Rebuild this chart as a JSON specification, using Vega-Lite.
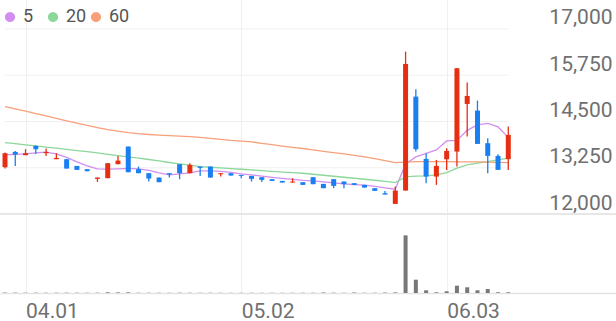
{
  "$schema": "https://vega.github.io/schema/vega-lite/v6.json",
  "width": 616,
  "height": 293,
  "autosize": "none",
  "padding": {"left": 0, "top": 0, "right": 0, "bottom": 28},
  "background": "white",
  "config": {"view": {"stroke": null}, "font": "Roboto"},
  "datasets": {
    "prices": [
      {"date": "03.28", "open": 13266, "high": 13661, "low": 13229, "close": 13644, "vol": 20000, "5": 13598, "20": 13931, "60": 14903},
      {"date": "03.29", "open": 13679, "high": 13706, "low": 13301, "close": 13607, "vol": 18000, "5": 13612, "20": 13901, "60": 14840},
      {"date": "04.01", "open": 13590, "high": 13752, "low": 13590, "close": 13644, "vol": 15000, "5": 13625, "20": 13871, "60": 14778},
      {"date": "04.02", "open": 13841, "high": 13855, "low": 13625, "close": 13752, "vol": 16000, "5": 13652, "20": 13841, "60": 14714},
      {"date": "04.03", "open": 13644, "high": 13769, "low": 13571, "close": 13679, "vol": 14000, "5": 13671, "20": 13809, "60": 14651},
      {"date": "04.04", "open": 13482, "high": 13644, "low": 13482, "close": 13517, "vol": 15000, "5": 13625, "20": 13779, "60": 14584},
      {"date": "04.05", "open": 13482, "high": 13490, "low": 13229, "close": 13229, "vol": 17000, "5": 13531, "20": 13747, "60": 14516},
      {"date": "04.08", "open": 13301, "high": 13301, "low": 13193, "close": 13193, "vol": 14000, "5": 13409, "20": 13715, "60": 14454},
      {"date": "04.09", "open": 13212, "high": 13212, "low": 13158, "close": 13158, "vol": 13000, "5": 13301, "20": 13685, "60": 14395},
      {"date": "04.11", "open": 12950, "high": 12986, "low": 12869, "close": 12986, "vol": 15000, "5": 13220, "20": 13652, "60": 14336},
      {"date": "04.12", "open": 12969, "high": 13374, "low": 12969, "close": 13374, "vol": 36000, "5": 13212, "20": 13612, "60": 14282},
      {"date": "04.15", "open": 13347, "high": 13571, "low": 13347, "close": 13445, "vol": 30000, "5": 13220, "20": 13577, "60": 14238},
      {"date": "04.16", "open": 13823, "high": 13823, "low": 13131, "close": 13131, "vol": 34000, "5": 13234, "20": 13544, "60": 14201},
      {"date": "04.17", "open": 13212, "high": 13283, "low": 13104, "close": 13104, "vol": 14000, "5": 13220, "20": 13509, "60": 14171},
      {"date": "04.18", "open": 13104, "high": 13104, "low": 12878, "close": 12959, "vol": 13000, "5": 13180, "20": 13474, "60": 14149},
      {"date": "04.19", "open": 12986, "high": 12986, "low": 12861, "close": 12861, "vol": 12000, "5": 13112, "20": 13436, "60": 14133},
      {"date": "04.22", "open": 13104, "high": 13104, "low": 12986, "close": 13067, "vol": 11000, "5": 13058, "20": 13393, "60": 14120},
      {"date": "04.23", "open": 13347, "high": 13347, "low": 12942, "close": 13104, "vol": 15000, "5": 13085, "20": 13355, "60": 14106},
      {"date": "04.24", "open": 13104, "high": 13374, "low": 13104, "close": 13328, "vol": 14000, "5": 13112, "20": 13320, "60": 14090},
      {"date": "04.25", "open": 13283, "high": 13283, "low": 13031, "close": 13247, "vol": 12000, "5": 13166, "20": 13283, "60": 14071},
      {"date": "04.26", "open": 13283, "high": 13283, "low": 12986, "close": 12986, "vol": 13000, "5": 13166, "20": 13264, "60": 14044},
      {"date": "04.29", "open": 13077, "high": 13104, "low": 13013, "close": 13104, "vol": 11000, "5": 13153, "20": 13245, "60": 14017},
      {"date": "04.30", "open": 13104, "high": 13104, "low": 13040, "close": 13040, "vol": 10000, "5": 13126, "20": 13226, "60": 13990},
      {"date": "05.02", "open": 13058, "high": 13058, "low": 12969, "close": 13031, "vol": 10000, "5": 13085, "20": 13210, "60": 13971},
      {"date": "05.03", "open": 13031, "high": 13031, "low": 12878, "close": 12950, "vol": 11000, "5": 13058, "20": 13191, "60": 13949},
      {"date": "05.07", "open": 12996, "high": 12996, "low": 12869, "close": 12923, "vol": 10000, "5": 13023, "20": 13172, "60": 13912},
      {"date": "05.08", "open": 12942, "high": 12942, "low": 12896, "close": 12896, "vol": 10000, "5": 12991, "20": 13153, "60": 13874},
      {"date": "05.09", "open": 12896, "high": 12896, "low": 12851, "close": 12851, "vol": 10000, "5": 12964, "20": 13134, "60": 13836},
      {"date": "05.10", "open": 12851, "high": 12969, "low": 12851, "close": 12878, "vol": 11000, "5": 12937, "20": 13118, "60": 13801},
      {"date": "05.13", "open": 12861, "high": 12861, "low": 12788, "close": 12788, "vol": 12000, "5": 12910, "20": 13102, "60": 13771},
      {"date": "05.14", "open": 12996, "high": 12996, "low": 12807, "close": 12807, "vol": 12000, "5": 12896, "20": 13075, "60": 13731},
      {"date": "05.16", "open": 12815, "high": 12815, "low": 12699, "close": 12699, "vol": 25000, "5": 12869, "20": 13048, "60": 13696},
      {"date": "05.17", "open": 12942, "high": 12942, "low": 12699, "close": 12761, "vol": 16000, "5": 12842, "20": 13021, "60": 13661},
      {"date": "05.20", "open": 12878, "high": 12878, "low": 12699, "close": 12807, "vol": 12000, "5": 12815, "20": 12994, "60": 13625},
      {"date": "05.21", "open": 12834, "high": 12834, "low": 12788, "close": 12788, "vol": 24000, "5": 12797, "20": 12967, "60": 13588},
      {"date": "05.22", "open": 12788, "high": 12788, "low": 12716, "close": 12716, "vol": 12000, "5": 12780, "20": 12940, "60": 13544},
      {"date": "05.23", "open": 12699, "high": 12699, "low": 12626, "close": 12626, "vol": 12000, "5": 12748, "20": 12913, "60": 13496},
      {"date": "05.24", "open": 12564, "high": 12626, "low": 12527, "close": 12527, "vol": 22000, "5": 12707, "20": 12883, "60": 13445},
      {"date": "05.27", "open": 12275, "high": 12743, "low": 12275, "close": 12635, "vol": 30000, "5": 12672, "20": 12851, "60": 13388},
      {"date": "05.28", "open": 12635, "high": 16388, "low": 12635, "close": 16055, "vol": 2950000, "5": 13355, "20": 13004, "60": 13404},
      {"date": "05.29", "open": 15173, "high": 15372, "low": 13688, "close": 13752, "vol": 681000, "5": 13544, "20": 13023, "60": 13415},
      {"date": "05.30", "open": 13490, "high": 13644, "low": 12834, "close": 13013, "vol": 138000, "5": 13639, "20": 13031, "60": 13415},
      {"date": "05.31", "open": 13013, "high": 13463, "low": 12788, "close": 13301, "vol": 36000, "5": 13733, "20": 13058, "60": 13415},
      {"date": "06.03", "open": 13482, "high": 13779, "low": 13193, "close": 13706, "vol": 87000, "5": 13976, "20": 13121, "60": 13415},
      {"date": "06.04", "open": 13688, "high": 15939, "low": 13283, "close": 15939, "vol": 374000, "5": 13990, "20": 13239, "60": 13409},
      {"date": "06.05", "open": 14975, "high": 15551, "low": 14093, "close": 15191, "vol": 292000, "5": 14260, "20": 13328, "60": 13409},
      {"date": "06.07", "open": 14795, "high": 15065, "low": 13895, "close": 13895, "vol": 138000, "5": 14408, "20": 13374, "60": 13409},
      {"date": "06.10", "open": 13914, "high": 14049, "low": 13104, "close": 13571, "vol": 205000, "5": 14449, "20": 13418, "60": 13401},
      {"date": "06.11", "open": 13571, "high": 13617, "low": 13193, "close": 13193, "vol": 36000, "5": 14354, "20": 13463, "60": 13396},
      {"date": "06.12", "open": 13482, "high": 14363, "low": 13193, "close": 14138, "vol": 36000, "5": 14071, "20": 13509, "60": 13390}
    ],
    "levels": [{"level": 13250}, {"level": 14500}, {"level": 15750}, {"level": 17000}]
  },
  "layer": [
    {
      "data": {"name": "levels"},
      "mark": {"type": "rule", "color": "#f0f0f0", "strokeWidth": 1},
      "encoding": {
        "x": {"datum": "03.28", "type": "ordinal", "scale": {"type": "point", "padding": 0.487, "domain": ["03.28","03.29","04.01","04.02","04.03","04.04","04.05","04.08","04.09","04.11","04.12","04.15","04.16","04.17","04.18","04.19","04.22","04.23","04.24","04.25","04.26","04.29","04.30","05.02","05.03","05.07","05.08","05.09","05.10","05.13","05.14","05.16","05.17","05.20","05.21","05.22","05.23","05.24","05.27","05.28","05.29","05.30","05.31","06.03","06.04","06.05","06.07","06.10","06.11","06.12","06.13","06.14","06.17","06.18","06.19","06.20","06.21","06.24","06.25","06.26"]}},
        "x2": {"datum": "06.12"},
        "y": {"field": "level", "type": "quantitative", "scale": {"domain": [9867, 17783], "nice": false, "zero": false}, "axis": null}
      }
    },
    {
      "data": {"name": "levels"},
      "mark": {"type": "rule", "color": "#e6e6e6", "strokeWidth": 1.2},
      "encoding": {
        "y": {"datum": 12000, "type": "quantitative", "scale": {"domain": [9867, 17783], "nice": false, "zero": false}, "axis": null}
      }
    },
    {
      "data": {"name": "prices"},
      "transform": [{"fold": ["5", "20", "60"], "as": ["ma", "val"]}],
      "mark": {"type": "line", "strokeWidth": 1.3},
      "encoding": {
        "x": {"field": "date", "type": "ordinal"},
        "y": {"field": "val", "type": "quantitative", "scale": {"domain": [9867, 17783], "nice": false, "zero": false}, "axis": null},
        "color": {
          "field": "ma", "type": "nominal",
          "scale": {"domain": ["5", "20", "60"], "range": ["#d28ef0", "#8cd79a", "#f7a07a"]},
          "legend": {
            "orient": "none", "legendX": 1, "legendY": 8, "direction": "horizontal", "title": null,
            "symbolType": "circle", "symbolSize": 105, "symbolStrokeWidth": 0,
            "labelFontSize": 18, "labelColor": "#555555", "labelFont": "Roboto", "labelOffset": 4,
            "gridAlign": "all", "columnPadding": -9, "padding": 0, "offset": 0,
            "encode": {"symbols": {"update": {"fill": {"scale": "color", "field": "value"}, "fillOpacity": {"value": 1}, "opacity": {"value": 1}}}}
          }
        }
      }
    },
    {
      "data": {"name": "prices"},
      "mark": {"type": "rule", "strokeWidth": 1.3},
      "encoding": {
        "x": {
          "field": "date", "type": "ordinal",
          "axis": {
            "values": ["04.01", "05.02", "06.03"], "title": null, "grid": true, "gridColor": "#efefef", "gridWidth": 1,
            "ticks": false, "domain": true, "domainColor": "#e3e3e3", "domainWidth": 1.5,
            "labelAlign": "left", "labelBaseline": "alphabetic", "labelPadding": 24, "labelAngle": 0,
            "labelFontSize": 21, "labelColor": "#707070", "labelFont": "Roboto", "labelFlush": false, "labelOverlap": false
          }
        },
        "y": {
          "field": "low", "type": "quantitative",
          "scale": {"domain": [9867, 17783], "nice": false, "zero": false},
          "axis": {
            "orient": "right", "values": [12000, 13250, 14500, 15750, 17000], "format": ",.0f", "title": null,
            "grid": false, "ticks": false, "domain": false,
            "labelAlign": "right", "labelBaseline": "alphabetic", "labelOffset": -5, "labelPadding": -4,
            "labelFontSize": 21, "labelColor": "#707070", "labelFont": "Roboto", "labelFlush": false, "labelOverlap": false
          }
        },
        "y2": {"field": "high"},
        "color": {"condition": {"test": "datum.close >= datum.open", "value": "#e62e12"}, "value": "#1a7ff0"}
      }
    },
    {
      "data": {"name": "prices"},
      "mark": {"type": "bar", "size": 5},
      "encoding": {
        "x": {"field": "date", "type": "ordinal"},
        "y": {"field": "open", "type": "quantitative", "scale": {"domain": [9867, 17783], "nice": false, "zero": false}, "axis": null},
        "y2": {"field": "close"},
        "color": {"condition": {"test": "datum.close >= datum.open", "value": "#e62e12"}, "value": "#1a7ff0"}
      }
    },
    {
      "data": {"name": "prices"},
      "mark": {"type": "bar", "size": 4, "color": "#777777"},
      "encoding": {
        "x": {"field": "date", "type": "ordinal"},
        "y": {"field": "vol", "type": "quantitative", "scale": {"domain": [0, 15000000], "nice": false}, "axis": null}
      }
    }
  ],
  "resolve": {"scale": {"y": "independent"}}
}
